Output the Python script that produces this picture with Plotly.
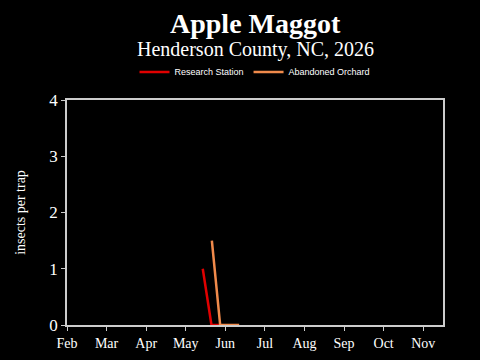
import plotly.graph_objects as go

months = ["Feb", "Mar", "Apr", "May", "Jun", "Jul", "Aug", "Sep", "Oct", "Nov"]
month_pos = [2, 3, 4, 5, 6, 7, 8, 9, 10, 11]

research_x = [5.43, 5.65, 5.86]
research_y = [1.0, 0.0, 0.0]
orchard_x = [5.66, 5.87, 6.1, 6.35]
orchard_y = [1.5, 0.0, 0.0, 0.0]

fig = go.Figure()
fig.add_trace(go.Scatter(x=research_x, y=research_y, mode="lines", name="Research Station",
                         line=dict(color="#e00000", width=2.5)))
fig.add_trace(go.Scatter(x=orchard_x, y=orchard_y, mode="lines", name="Abandoned Orchard",
                         line=dict(color="#f08a4b", width=2.5)))

serif = "Liberation Serif"
fig.update_layout(
    width=480, height=360,
    paper_bgcolor="black", plot_bgcolor="black",
    margin=dict(l=67, r=37, t=100, b=35, autoexpand=False),
    showlegend=True,
    legend=dict(orientation="h", x=0.5, xanchor="center", y=1.125, yanchor="middle",
                font=dict(family="Liberation Sans", size=9, color="white"),
                bgcolor="rgba(0,0,0,0)", itemwidth=30, tracegroupgap=0),
)
fig.add_annotation(text="<b>Apple Maggot</b>", xref="paper", yref="paper", x=0.5, y=(325 - 23) / 225,
                   showarrow=False, yanchor="middle", font=dict(family=serif, size=28, color="white"))
fig.add_annotation(text="Henderson County, NC, 2026", xref="paper", yref="paper", x=0.5, y=(325 - 49) / 225,
                   showarrow=False, yanchor="middle", font=dict(family=serif, size=20, color="white"))

fig.update_xaxes(range=[2, 11.5], tickvals=month_pos, ticktext=months, showgrid=False, zeroline=False,
                 showline=True, linecolor="#cccccc", linewidth=1.5, mirror=True, automargin=False,
                 ticks="outside", ticklen=4, tickcolor="#cccccc",
                 tickfont=dict(family=serif, size=14, color="white"))
fig.update_yaxes(range=[0, 4], tickvals=[0, 1, 2, 3, 4], showgrid=False, zeroline=False,
                 showline=True, linecolor="#cccccc", linewidth=1.5, mirror=True, automargin=False,
                 ticks="outside", ticklen=4, tickcolor="#cccccc",
                 tickfont=dict(family=serif, size=17, color="white"),
                 title=dict(text="insects per trap", font=dict(family=serif, size=14, color="white"), standoff=20))

fig.write_html("out.html")
